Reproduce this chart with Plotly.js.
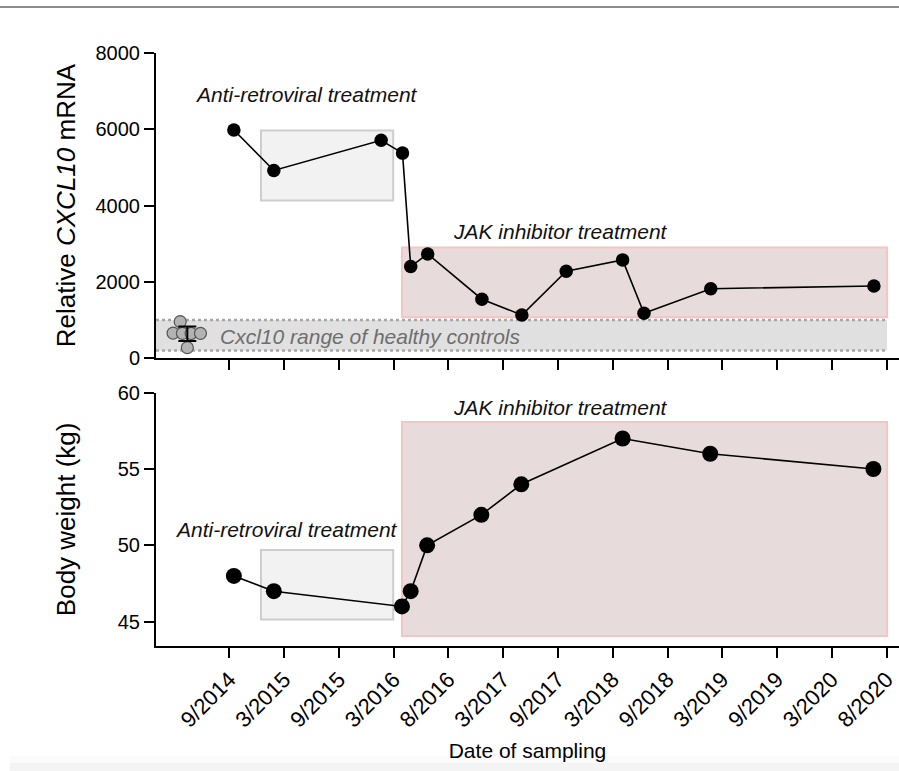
<!DOCTYPE html>
<html>
<head>
<meta charset="utf-8">
<script src="https://cdn.plot.ly/plotly-3.0.1.min.js"></script>
<style>html,body{margin:0;padding:0;background:#fff;}#chart{width:899px;height:771px;}</style>
</head>
<body>
<div id="chart"></div>
<script>
// Tick labels (sampling dates) at positions 0..12
const tickLabels = ['9/2014','3/2015','9/2015','3/2016','8/2016','3/2017','9/2017','3/2018','9/2018','3/2019','9/2019','3/2020','8/2020'];
const tickPos = [0,1,2,3,4,5,6,7,8,9,10,11,12];

// CXCL10 mRNA (top panel)
const cxclPos = [0.08, 0.81, 2.77, 3.16, 3.31, 3.62, 4.61, 5.34, 6.15, 7.18, 7.57, 8.79, 11.77];
const cxclVal = [5980, 4920, 5710, 5375, 2400, 2730, 1545, 1130, 2280, 2575, 1175, 1820, 1890];

// Body weight (bottom panel)
const weightPos = [0.08, 0.81, 3.15, 3.31, 3.61, 4.60, 5.33, 7.18, 8.78, 11.76];
const weightVal = [48, 47, 46, 47, 50, 52, 54, 57, 56, 55];

// Healthy controls (Cxcl10)
const hcPos = [-0.90, -1.03, -0.86, -0.70, -0.53, -0.77];
const hcVal = [955, 655, 650, 645, 650, 273];
const hcMeanPos = [-0.77];
const hcMean = [637];
const hcSD = [190];
const hcRange = [200, 1000];

// Treatment periods [start, end] in axis positions
const artPeriod = [0.575, 2.99];
const jakPeriod = [3.15, 12.01];
const artCxclBox = [4130, 5970];
const jakCxclBox = [1070, 2900];
const artWeightBox = [45.15, 49.7];
const jakWeightBox = [44.06, 58.08];

const FONT = 'Liberation Sans, Arial, Helvetica, sans-serif';
const xRange = [-1.342, 12.228];

const traces = [
  {x: cxclPos, y: cxclVal, xaxis: 'x', yaxis: 'y', mode: 'lines+markers', type: 'scatter',
   line: {color: '#000', width: 1.6}, marker: {color: '#000', size: 13.5}, hoverinfo: 'x+y'},
  {x: hcPos, y: hcVal, xaxis: 'x', yaxis: 'y', mode: 'markers', type: 'scatter',
   marker: {color: '#b3b3b3', size: 12, line: {color: '#555', width: 1.2}}},
  {x: hcMeanPos, y: hcMean, xaxis: 'x', yaxis: 'y', mode: 'markers', type: 'scatter',
   marker: {color: '#000', size: 0.1},
   error_y: {type: 'data', array: hcSD, visible: true, color: '#000', thickness: 2, width: 9}},
  {x: weightPos, y: weightVal, xaxis: 'x2', yaxis: 'y2', mode: 'lines+markers', type: 'scatter',
   line: {color: '#000', width: 1.6}, marker: {color: '#000', size: 16}}
];

const grayBox = {fillcolor: '#f2f2f2', line: {color: '#cdcdcd', width: 2}, layer: 'below', type: 'rect'};
const pinkBox = {fillcolor: '#e8dbdb', line: {color: '#f6c4c4', width: 2}, layer: 'below', type: 'rect'};

const shapes = [
  // healthy band
  {type: 'rect', xref: 'x', yref: 'y', x0: xRange[0], x1: jakPeriod[1], y0: hcRange[0], y1: hcRange[1],
   fillcolor: '#e0e0e0', line: {width: 0}, layer: 'below'},
  {type: 'line', xref: 'x', yref: 'y', x0: xRange[0], x1: jakPeriod[1], y0: hcRange[1], y1: hcRange[1],
   line: {color: '#a6a6a6', width: 2.5, dash: 'dot'}, layer: 'below'},
  {type: 'line', xref: 'x', yref: 'y', x0: xRange[0], x1: jakPeriod[1], y0: hcRange[0], y1: hcRange[0],
   line: {color: '#a6a6a6', width: 2.5, dash: 'dot'}, layer: 'below'},
  Object.assign({xref: 'x', yref: 'y', x0: artPeriod[0], x1: artPeriod[1], y0: artCxclBox[0], y1: artCxclBox[1]}, grayBox),
  Object.assign({xref: 'x', yref: 'y', x0: jakPeriod[0], x1: jakPeriod[1], y0: jakCxclBox[0], y1: jakCxclBox[1]}, pinkBox),
  Object.assign({xref: 'x2', yref: 'y2', x0: artPeriod[0], x1: artPeriod[1], y0: artWeightBox[0], y1: artWeightBox[1]}, grayBox),
  Object.assign({xref: 'x2', yref: 'y2', x0: jakPeriod[0], x1: jakPeriod[1], y0: jakWeightBox[0], y1: jakWeightBox[1]}, pinkBox),
  // page decorations
  {type: 'line', xref: 'paper', yref: 'paper', x0: -0.21, x1: 1, y0: 1.0776, y1: 1.0776,
   line: {color: '#8c8c8c', width: 2}},
  {type: 'rect', xref: 'paper', yref: 'paper', x0: -0.197, x1: 1, y0: -0.185, y1: -0.197,
   fillcolor: '#fbfbfb', line: {width: 0}},
  {type: 'rect', xref: 'paper', yref: 'paper', x0: -0.197, x1: 1, y0: -0.197, y1: -0.211,
   fillcolor: '#f4f4f4', line: {width: 0}}
];

const annFont = {family: FONT, size: 21, color: '#111'};
const annotations = [
  {text: '<i>Anti-retroviral treatment</i>', xref: 'x', yref: 'y', x: 1.415, y: 6906, showarrow: false, font: annFont},
  {text: '<i>JAK inhibitor treatment</i>', xref: 'x', yref: 'y', x: 6.04, y: 3310, showarrow: false, font: annFont},
  {text: '<i>Cxcl10 range of healthy controls</i>', xref: 'x', yref: 'y', x: -0.21, y: 560, xanchor: 'left', showarrow: false,
   font: {family: FONT, size: 21, color: '#6e6e6e'}},
  {text: '<i>JAK inhibitor treatment</i>', xref: 'x2', yref: 'y2', x: 6.04, y: 59.06, showarrow: false, font: annFont},
  {text: '<i>Anti-retroviral treatment</i>', xref: 'x2', yref: 'y2', x: 1.05, y: 51.07, showarrow: false, font: annFont}
];

const axisCommon = {showline: true, linecolor: '#000', linewidth: 2, ticks: 'outside', ticklen: 10, tickwidth: 2,
  tickcolor: '#000', showgrid: false, zeroline: false, tickfont: {family: FONT, size: 20, color: '#000'}};

const layout = {
  width: 899, height: 771,
  margin: {l: 156, r: 0, t: 53, b: 125},
  paper_bgcolor: '#fff', plot_bgcolor: 'rgba(0,0,0,0)',
  showlegend: false,
  font: {family: FONT, color: '#000'},
  xaxis: Object.assign({}, axisCommon, {range: xRange, domain: [0, 1], anchor: 'y', tickvals: tickPos,
    ticktext: tickLabels, showticklabels: false}),
  yaxis: Object.assign({}, axisCommon, {range: [0, 8000], domain: [0.4855, 1], anchor: 'x',
    tickvals: [0, 2000, 4000, 6000, 8000],
    title: {text: 'Relative <i>CXCL10</i> mRNA', font: {family: FONT, size: 26, color: '#000'}, standoff: 12}}),
  xaxis2: Object.assign({}, axisCommon, {range: xRange, domain: [0, 1], anchor: 'y2', tickvals: tickPos,
    ticktext: tickLabels, tickangle: -45, ticklabeloverflow: 'allow',
    tickfont: {family: FONT, size: 22, color: '#000'},
    title: {text: 'Date of sampling', font: {family: FONT, size: 21, color: '#000'}, standoff: 12}}),
  yaxis2: Object.assign({}, axisCommon, {range: [43.41, 60], domain: [0, 0.4272], anchor: 'x2',
    tickvals: [45, 50, 55, 60],
    title: {text: 'Body weight (kg)', font: {family: FONT, size: 26, color: '#000'}, standoff: 35}}),
  shapes: shapes,
  annotations: annotations
};

Plotly.newPlot('chart', traces, layout, {displayModeBar: false, staticPlot: true});
</script>
</body>
</html>
